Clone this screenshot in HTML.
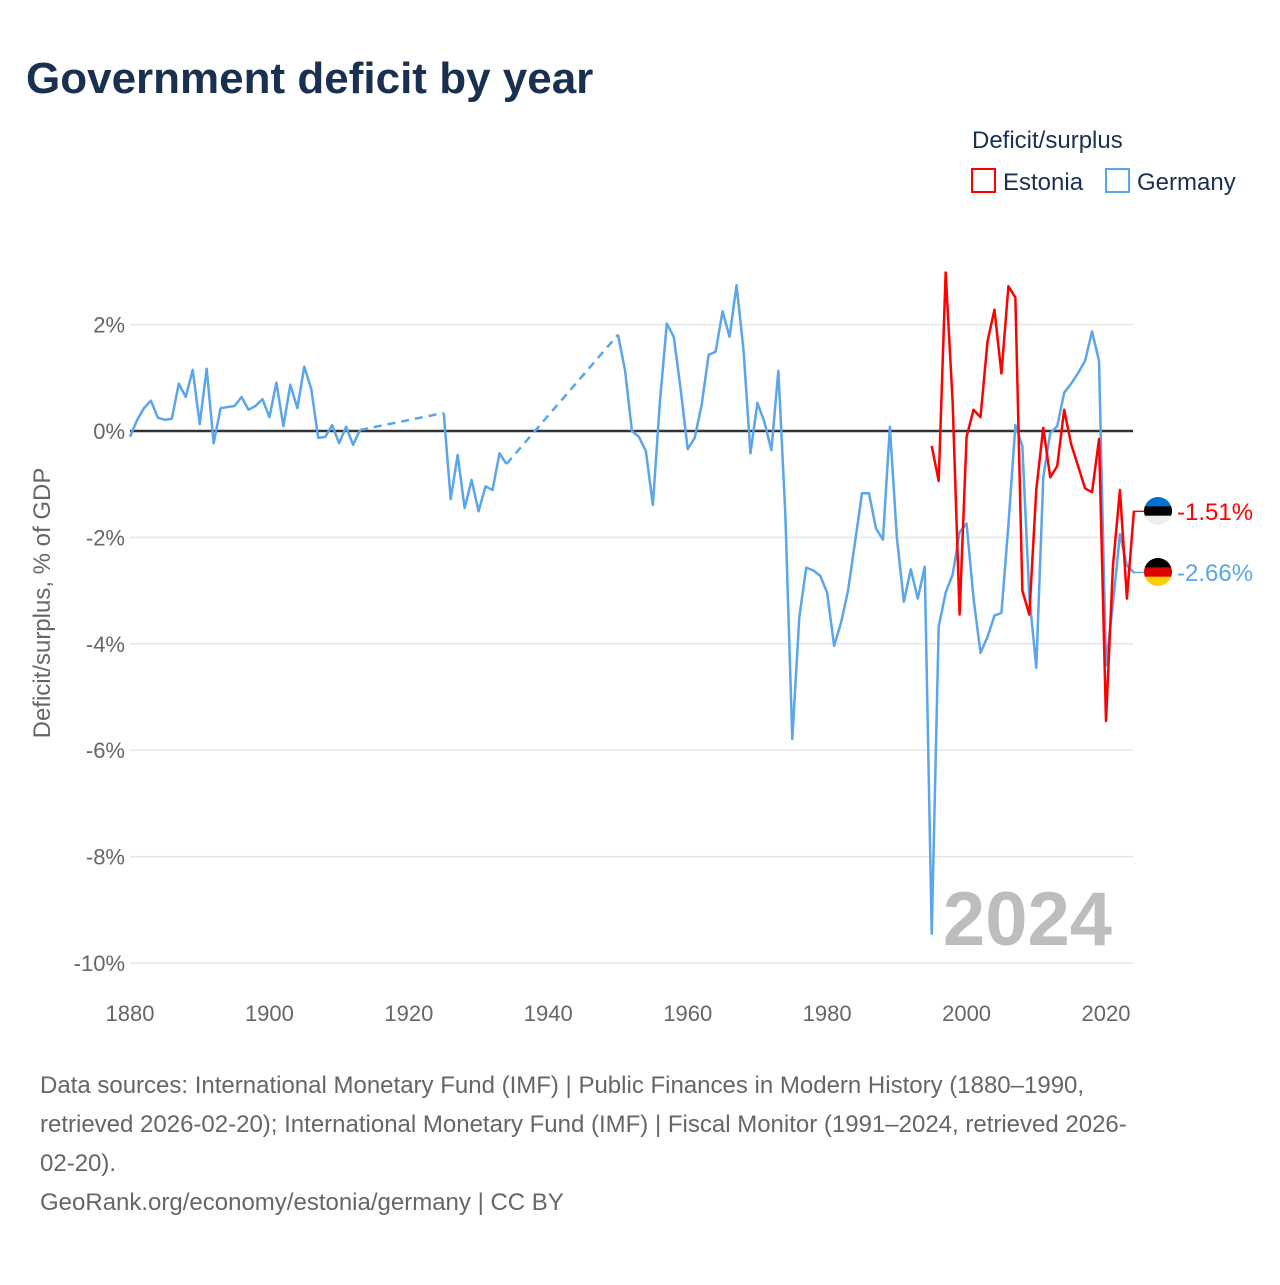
<!DOCTYPE html>
<html><head><meta charset="utf-8"><style>
body{margin:0;background:#fff;font-family:"Liberation Sans",sans-serif;}
svg text{font-family:"Liberation Sans",sans-serif;}
</style></head><body>
<svg id="chart" width="1280" height="1280" viewBox="0 0 1280 1280" xmlns="http://www.w3.org/2000/svg">
<rect width="1280" height="1280" fill="#fff"/>
<text x="26" y="93" font-size="44" font-weight="bold" fill="#1a3050">Government deficit by year</text>
<text x="972" y="148" font-size="24" fill="#1a3050">Deficit/surplus</text>
<g><rect x="972" y="169" width="23" height="23" fill="none" stroke="#ff0000" stroke-width="2"/><text x="1003" y="190" font-size="24" fill="#1a3050">Estonia</text></g>
<g><rect x="1106" y="169" width="23" height="23" fill="none" stroke="#5aa5eb" stroke-width="2"/><text x="1137" y="190" font-size="24" fill="#1a3050">Germany</text></g>
<g id="grid"></g><g id="xaxis"></g><g id="series"></g><g id="labels"></g>
<text x="1112" y="945" font-size="76" font-weight="bold" fill="#bdbdbd" text-anchor="end">2024</text>
<text transform="translate(50,603) rotate(-90)" font-size="24" fill="#666" text-anchor="middle">Deficit/surplus, % of GDP</text>
<g font-size="24" fill="#666">
<text x="40" y="1093">Data sources: International Monetary Fund (IMF) | Public Finances in Modern History (1880–1990,</text>
<text x="40" y="1132">retrieved 2026-02-20); International Monetary Fund (IMF) | Fiscal Monitor (1991–2024, retrieved 2026-</text>
<text x="40" y="1171">02-20).</text>
<text x="40" y="1210">GeoRank.org/economy/estonia/germany | CC BY</text>
</g>
</svg>
<script>
const yTicks=[2,0,-2,-4,-6,-8,-10];
const xTicks=[1880,1900,1920,1940,1960,1980,2000,2020];
const deYears=[1880,1881,1882,1883,1884,1885,1886,1887,1888,1889,1890,1891,1892,1893,1894,1895,1896,1897,1898,1899,1900,1901,1902,1903,1904,1905,1906,1907,1908,1909,1910,1911,1912,1913,1925,1926,1927,1928,1929,1930,1931,1932,1933,1934,1950,1951,1952,1953,1954,1955,1956,1957,1958,1959,1960,1961,1962,1963,1964,1965,1966,1967,1968,1969,1970,1971,1972,1973,1974,1975,1976,1977,1978,1979,1980,1981,1982,1983,1984,1985,1986,1987,1988,1989,1990,1991,1992,1993,1994,1995,1996,1997,1998,1999,2000,2001,2002,2003,2004,2005,2006,2007,2008,2009,2010,2011,2012,2013,2014,2015,2016,2017,2018,2019,2020,2021,2022,2023,2024];
const deValues=[-0.11,0.2,0.43,0.57,0.25,0.21,0.23,0.89,0.64,1.15,0.13,1.17,-0.23,0.43,0.45,0.47,0.64,0.4,0.47,0.6,0.26,0.91,0.09,0.87,0.43,1.21,0.79,-0.13,-0.11,0.11,-0.23,0.08,-0.26,0.02,0.34,-1.28,-0.45,-1.45,-0.92,-1.51,-1.04,-1.11,-0.42,-0.62,1.81,1.15,0.0,-0.11,-0.38,-1.39,0.53,2.02,1.77,0.77,-0.34,-0.13,0.49,1.43,1.49,2.25,1.77,2.74,1.53,-0.42,0.53,0.17,-0.36,1.13,-1.55,-5.79,-3.51,-2.57,-2.62,-2.72,-3.04,-4.04,-3.6,-3.0,-2.09,-1.17,-1.17,-1.83,-2.04,0.08,-2.0,-3.21,-2.6,-3.15,-2.55,-9.45,-3.68,-3.04,-2.7,-1.9,-1.74,-3.15,-4.17,-3.87,-3.47,-3.42,-1.77,0.11,-0.28,-3.11,-4.45,-0.87,-0.04,0.09,0.72,0.89,1.09,1.32,1.87,1.32,-4.41,-3.25,-1.94,-2.53,-2.66];
const eeYears=[1995,1996,1997,1998,1999,2000,2001,2002,2003,2004,2005,2006,2007,2008,2009,2010,2011,2012,2013,2014,2015,2016,2017,2018,2019,2020,2021,2022,2023,2024];
const eeValues=[-0.28,-0.94,2.98,0.55,-3.45,-0.11,0.4,0.26,1.68,2.28,1.08,2.72,2.51,-3.0,-3.45,-1.1,0.06,-0.87,-0.66,0.4,-0.25,-0.66,-1.08,-1.15,-0.15,-5.45,-2.53,-1.11,-3.15,-1.51];
const NS='http://www.w3.org/2000/svg';
const X=y=>130+(y-1880)*976/140;
const Y=v=>431-v*53.2;
function mk(tag,attrs,parent){const e=document.createElementNS(NS,tag);for(const k in attrs)e.setAttribute(k,attrs[k]);parent.appendChild(e);return e;}
const grid=document.getElementById('grid'),xa=document.getElementById('xaxis'),ser=document.getElementById('series'),lab=document.getElementById('labels');
yTicks.forEach(t=>{
  const l=mk('line',{x1:130,x2:1133,y1:Y(t),y2:Y(t),stroke:t===0?'#333':'#e6e6e6','stroke-width':t===0?2.5:1.5},grid);
  
  
  const tx=mk('text',{x:125,y:Y(t)+8,'font-size':22,fill:'#666','text-anchor':'end'},grid);
  tx.textContent=t+'%';
  
  
});
xTicks.forEach(t=>{
  const tx=mk('text',{x:X(t),y:1021,'font-size':22,fill:'#666','text-anchor':'middle'},xa);
  tx.textContent=t;
  
  
});
function draw(years,vals,color,name){
  const g=mk('g',{},ser);
  
  
  let d='';
  for(let i=0;i<years.length;i++){
    if(i>0&&years[i]-years[i-1]>1){
      const dl=mk('line',{x1:X(years[i-1]),y1:Y(vals[i-1]),x2:X(years[i]),y2:Y(vals[i]),stroke:color,'stroke-width':2.5,'stroke-dasharray':'8,6'},g);
      
      
      d+=' M'+X(years[i])+' '+Y(vals[i]);
    } else d+=(i===0?'M':' L')+X(years[i])+' '+Y(vals[i]);
  }
  const p=mk('path',{d:d,fill:'none',stroke:color,'stroke-width':2.5,'stroke-linejoin':'round'},g);
  
  
}
draw(deYears,deValues,'#5aa5eb','germany-series');
draw(eeYears,eeValues,'#ff0000','estonia-series');
function endLabel(v,color,name,flag,ly){
  const g=mk('g',{},lab);
  
  
  mk('line',{x1:1133,x2:1145,y1:Y(v),y2:Y(v),stroke:color,'stroke-width':1.5},g);
  const cx=1158,r=14;
  const cp=mk('clipPath',{id:'c'+name},g);mk('circle',{cx:cx,cy:ly,r:r},cp);
  const fg=mk('g',{'clip-path':'url(#c'+name+')'},g);
  flag.forEach((c,i)=>mk('rect',{x:cx-r,y:ly-r+i*2*r/3,width:2*r,height:2*r/3+0.5,fill:c},fg));
  const t=mk('text',{x:1177,y:ly+9,'font-size':24,fill:color},g);
  t.textContent=v.toFixed(2)+'%';
}
endLabel(eeValues[eeValues.length-1],'#ff0000','estonia-end-label',['#0072ce','#000','#eee'],511);
endLabel(deValues[deValues.length-1],'#5aa5eb','germany-end-label',['#000','#dd0000','#ffce00'],572);
</script>
</body></html>
